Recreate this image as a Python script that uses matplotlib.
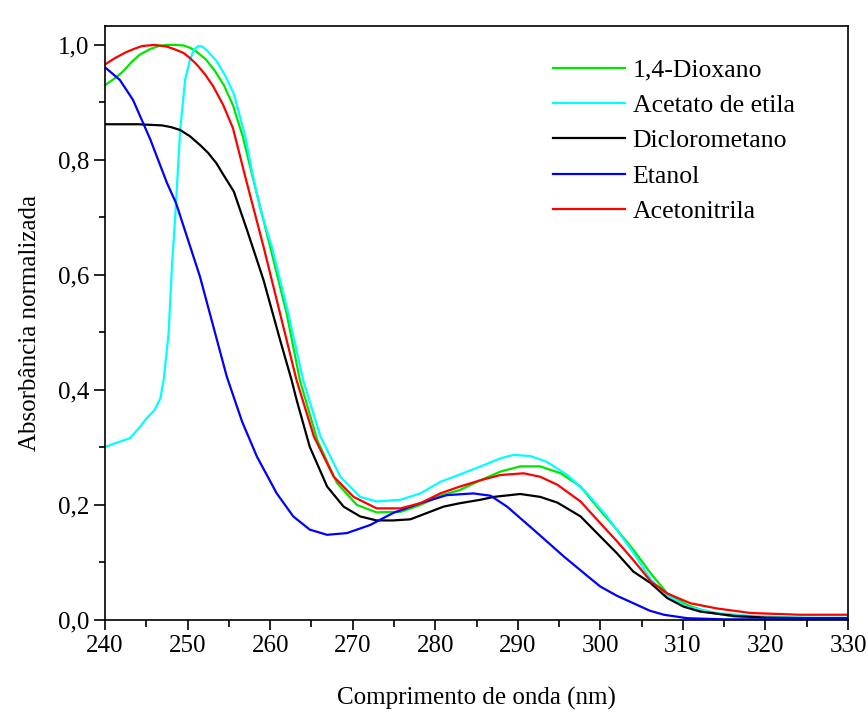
import numpy as np
import matplotlib
matplotlib.use('Agg')
import matplotlib.pyplot as plt
from matplotlib.ticker import MultipleLocator, FuncFormatter

plt.rcParams['font.family'] = ['Liberation Serif', 'DejaVu Serif']

# Normalized absorption spectra (wavelength in nm)
wl_dioxano = [240, 241.2, 242.2, 243.2, 244.2, 245.5, 246.5, 247.5, 248.5, 249.5, 250.3, 251.1,
              252.2, 253.3, 254.4, 255.5, 256.7, 257.8, 260, 262, 263.6, 265.7, 268.1, 270.5,
              272.9, 275.8, 278.2, 280.6, 283, 285.5, 287.9, 290.3, 292.7, 295.2, 297.6, 300,
              302, 304, 306.1, 308.1, 310.5, 312.9, 316.2, 320, 325, 330]
abs_dioxano = [0.930, 0.942, 0.954, 0.970, 0.983, 0.993, 0.998, 1.0, 1.0, 0.999, 0.995, 0.988,
               0.975, 0.955, 0.930, 0.895, 0.840, 0.775, 0.649, 0.533, 0.417, 0.313, 0.238, 0.200,
               0.187, 0.188, 0.200, 0.216, 0.226, 0.243, 0.258, 0.267, 0.267, 0.255, 0.232, 0.190,
               0.157, 0.122, 0.081, 0.046, 0.026, 0.014, 0.006, 0.003, 0.002, 0.002]

wl_acetato = [240, 243, 244.2, 245, 246, 246.7, 247.1, 247.7, 248.1, 248.5, 249.1, 249.7, 250.3,
              250.8, 251.3, 251.8, 252.3, 253.5, 254.5, 255.6, 257, 257.8, 258.8, 260.2, 262.2,
              264, 266.1, 268.5, 270.9, 272.9, 275.8, 278.2, 280.6, 283, 285.5, 287.9, 289.5,
              291.5, 293.5, 296, 298.4, 300.8, 304, 306.1, 308.1, 310.5, 314.1, 318.2, 322, 326,
              330]
abs_acetato = [0.301, 0.316, 0.335, 0.350, 0.365, 0.385, 0.417, 0.498, 0.614, 0.701, 0.852, 0.939,
               0.975, 0.992, 0.998, 0.997, 0.991, 0.972, 0.948, 0.915, 0.840, 0.780, 0.715, 0.649,
               0.533, 0.417, 0.319, 0.249, 0.214, 0.206, 0.209, 0.220, 0.240, 0.253, 0.267, 0.281,
               0.287, 0.285, 0.275, 0.252, 0.220, 0.180, 0.117, 0.070, 0.043, 0.023, 0.012, 0.007,
               0.005, 0.004, 0.004]

wl_dcm = [240, 244, 246.9, 248, 249.1, 250.3, 251.5, 252.5, 253.5, 254.3, 255.6, 257.2, 259.2,
          261.2, 262.6, 263.2, 264.8, 266.9, 268.9, 270.9, 272.9, 274.9, 277, 279, 281, 283,
          285.5, 287.1, 290.3, 292.7, 294.8, 297.6, 300, 302, 304, 306.1, 308.1, 310.1, 312.1,
          316.2, 320, 325, 330]
abs_dcm = [0.862, 0.862, 0.860, 0.857, 0.852, 0.841, 0.826, 0.812, 0.794, 0.775, 0.745, 0.678, 0.591,
           0.487, 0.417, 0.383, 0.301, 0.232, 0.197, 0.180, 0.173, 0.173, 0.175, 0.186, 0.197, 0.203,
           0.209, 0.214, 0.219, 0.214, 0.204, 0.180, 0.145, 0.116, 0.084, 0.064, 0.038, 0.023, 0.0145,
           0.007, 0.004, 0.003, 0.003]

wl_etanol = [240, 241.8, 243.4, 245.5, 247.5, 248.6, 251.5, 254.75, 256.6, 258.4, 260.8, 262.8,
             264.8, 266.9, 269.3, 272.1, 274.9, 278.2, 281.4, 284.6, 286.7, 288.7, 291.9, 295.6,
             298.8, 300, 302, 304, 306, 307.7, 310.5, 315, 330]
abs_etanol = [0.961, 0.939, 0.904, 0.835, 0.760, 0.725, 0.597, 0.423, 0.345, 0.284, 0.220, 0.180,
              0.157, 0.148, 0.151, 0.165, 0.186, 0.203, 0.217, 0.220, 0.216, 0.197, 0.157, 0.110,
              0.072, 0.058, 0.042, 0.029, 0.016, 0.009, 0.003, 0.001, 0.001]

wl_acn = [240, 241.2, 242.5, 243.5, 244.5, 246, 247.5, 248.5, 249.5, 250.3, 251.1, 252.1, 253.1,
          254.3, 255.5, 257, 259.2, 261.2, 263.2, 265.3, 267.7, 270.1, 272.9, 275.8, 278.2,
          280.6, 283, 285.5, 287.9, 290.7, 292.7, 294.8, 297.6, 300, 302, 304, 306.1, 308.1,
          310.9, 314.1, 318.2, 324.2, 330]
abs_acn = [0.966, 0.977, 0.987, 0.993, 0.998, 1.0, 0.997, 0.992, 0.986, 0.977, 0.966, 0.949, 0.928,
           0.896, 0.855, 0.770, 0.649, 0.533, 0.417, 0.319, 0.249, 0.214, 0.194, 0.194, 0.203, 0.220,
           0.232, 0.243, 0.252, 0.255, 0.249, 0.235, 0.206, 0.168, 0.137, 0.104, 0.067, 0.046, 0.029,
           0.020, 0.012, 0.009, 0.009]

fig = plt.figure(figsize=(8.68, 7.2), dpi=100)
ax = fig.add_axes([0.121, 0.139, 0.856, 0.825])

ax.plot(wl_dioxano, abs_dioxano, color='#00e600', lw=1.6, label='1,4-Dioxano')
ax.plot(wl_acetato, abs_acetato, color='#00ffff', lw=1.6, label='Acetato de etila')
ax.plot(wl_dcm, abs_dcm, color='black', lw=1.6, label='Diclorometano')
ax.plot(wl_etanol, abs_etanol, color='#0000ff', lw=1.6, label='Etanol')
ax.plot(wl_acn, abs_acn, color='#ff0000', lw=1.6, label='Acetonitrila')

ax.set_xlim(240, 330)
ax.set_ylim(0, 1.033)
ax.xaxis.set_major_locator(MultipleLocator(10))
ax.xaxis.set_minor_locator(MultipleLocator(5))
ax.yaxis.set_major_locator(MultipleLocator(0.2))
ax.yaxis.set_minor_locator(MultipleLocator(0.1))
ax.yaxis.set_major_formatter(FuncFormatter(lambda v, p: f'{v:.1f}'.replace('.', ',')))

ax.tick_params(which='both', direction='out', top=False, right=False, labelsize=18, width=1.2)
ax.tick_params(axis='x', which='major', length=7)
ax.tick_params(axis='x', which='minor', length=5)
ax.tick_params(axis='y', which='major', length=8)
ax.tick_params(axis='y', which='minor', length=4.5)
for s in ax.spines.values():
    s.set_linewidth(1.2)

ax.set_xlabel('Comprimento de onda (nm)', fontsize=18, labelpad=22)
ax.set_ylabel('Absorbância normalizada', fontsize=18, labelpad=12)

ax.legend(loc='upper left', bbox_to_anchor=(0.603, 0.945), frameon=False, fontsize=18.5,
          handlelength=2.8, handletextpad=0.3, labelspacing=0.48, borderpad=0, borderaxespad=0)

fig.savefig('out.png', dpi=100)
